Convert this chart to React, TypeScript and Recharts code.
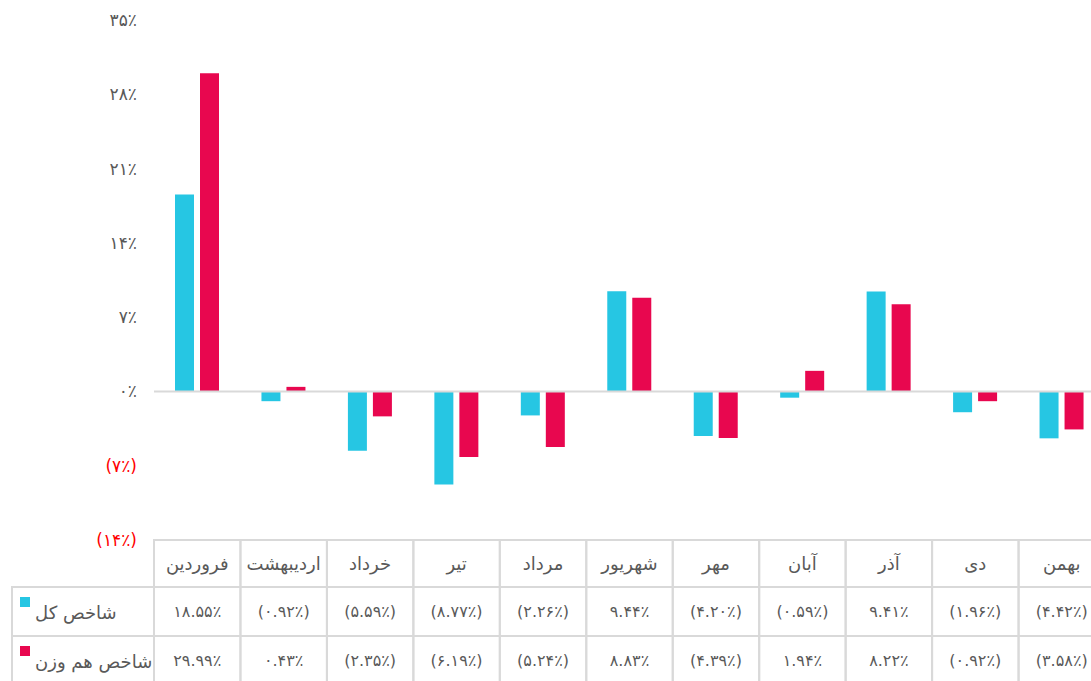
import { Bar, BarChart, ReferenceLine, XAxis, YAxis } from "recharts";

const months = ["فروردین", "اردیبهشت", "خرداد", "تیر", "مرداد", "شهریور", "مهر", "آبان", "آذر", "دی", "بهمن"];
const totalIndex = [18.55, -0.92, -5.59, -8.77, -2.26, 9.44, -4.2, -0.59, 9.41, -1.96, -4.42];
const equalWeight = [29.99, 0.43, -2.35, -6.19, -5.24, 8.83, -4.39, 1.94, 8.22, -0.92, -3.58];
const seriesNames = ["شاخص کل", "شاخص هم وزن"];
const yTicks = [-14, -7, 0, 7, 14, 21, 28, 35];

const CYAN = "#26c6e3";
const RED = "#e8074f";
const GRID = "#d9d9d9";
const TEXT = "#595959";
const FONT = "'DejaVu Sans', sans-serif";

const data = months.map((m, i) => ({ month: m, total: totalIndex[i], equal: equalWeight[i] }));

const faDigits = (s: string) => s.replace(/\d/g, (d) => "۰۱۲۳۴۵۶۷۸۹"[+d]);
const fmtPct = (v: number, dec: number) => {
  const s = faDigits(Math.abs(v).toFixed(dec)) + "٪";
  return v < 0 ? `(${s})` : s;
};

const rowH = [47, 49, 48];

const YTick = (props: any) => {
  const { x, y, payload } = props;
  const v = payload.value as number;
  return (
    <text x={x} y={y} textAnchor="end" dominantBaseline="central" fontSize={17} fontFamily={FONT} fill={v < 0 ? "#ff0000" : TEXT}>
      {fmtPct(v, 0)}
    </text>
  );
};

const TableTick = (props: any) => {
  const { x, y, payload, index } = props;
  const half = payload.offset || 43;
  const left = x - half;
  const w = half * 2;
  const r1 = y + rowH[0];
  const r2 = r1 + rowH[1];
  const r3 = r2 + rowH[2];
  const cellText = { fontSize: 16, fontFamily: FONT, fill: TEXT, textAnchor: "middle" as const, dominantBaseline: "central" as const };
  return (
    <g>
      {index === 0 && (
        <g>
          <rect x={12} y={r1} width={left - 12} height={r3 - r1} fill="none" stroke={GRID} strokeWidth={2} />
          <line x1={12} y1={r2} x2={left} y2={r2} stroke={GRID} strokeWidth={2} />
          <rect x={20} y={r1 + 10} width={10} height={10} fill={CYAN} />
          <rect x={20} y={r2 + 10} width={10} height={10} fill={RED} />
          <text x={35} y={(r1 + r2) / 2 + 1} fontSize={18} fontFamily={FONT} fill={TEXT} dominantBaseline="central">
            {seriesNames[0]}
          </text>
          <text x={35} y={(r2 + r3) / 2 + 1} fontSize={18} fontFamily={FONT} fill={TEXT} dominantBaseline="central">
            {seriesNames[1]}
          </text>
        </g>
      )}
      <rect x={left} y={y} width={w} height={r3 - y} fill="none" stroke={GRID} strokeWidth={2} />
      <line x1={left} y1={r1} x2={left + w} y2={r1} stroke={GRID} strokeWidth={2} />
      <line x1={left} y1={r2} x2={left + w} y2={r2} stroke={GRID} strokeWidth={2} />
      <text x={x} y={(y + r1) / 2} {...cellText} fontSize={18}>
        {payload.value}
      </text>
      <text x={x} y={(r1 + r2) / 2} {...cellText}>
        {fmtPct(totalIndex[index], 2)}
      </text>
      <text x={x} y={(r2 + r3) / 2} {...cellText}>
        {fmtPct(equalWeight[index], 2)}
      </text>
    </g>
  );
};

export default function App() {
  return (
    <div style={{ position: "absolute", left: 0, top: 0, width: 1091, height: 681, overflow: "hidden", background: "#fff" }}>
      <BarChart
        width={1105}
        height={681}
        data={data}
        margin={{ top: 20, right: 0, left: 0, bottom: 0 }}
        barGap={6}
      >
        <YAxis
          width={154}
          domain={[-14, 35]}
          ticks={yTicks}
          axisLine={false}
          tickLine={false}
          tickMargin={11}
          tick={(p: any) => <YTick {...p} />}
        />
        <XAxis
          dataKey="month"
          height={141}
          interval={0}
          axisLine={false}
          tickLine={false}
          tickSize={0}
          tickMargin={0}
          tick={(p: any) => <TableTick {...p} />}
        />
        <ReferenceLine y={0} stroke={GRID} strokeWidth={2} />
        <Bar dataKey="total" name={seriesNames[0]} fill={CYAN} barSize={19} isAnimationActive={false} />
        <Bar dataKey="equal" name={seriesNames[1]} fill={RED} barSize={19} isAnimationActive={false} />
      </BarChart>
    </div>
  );
}
